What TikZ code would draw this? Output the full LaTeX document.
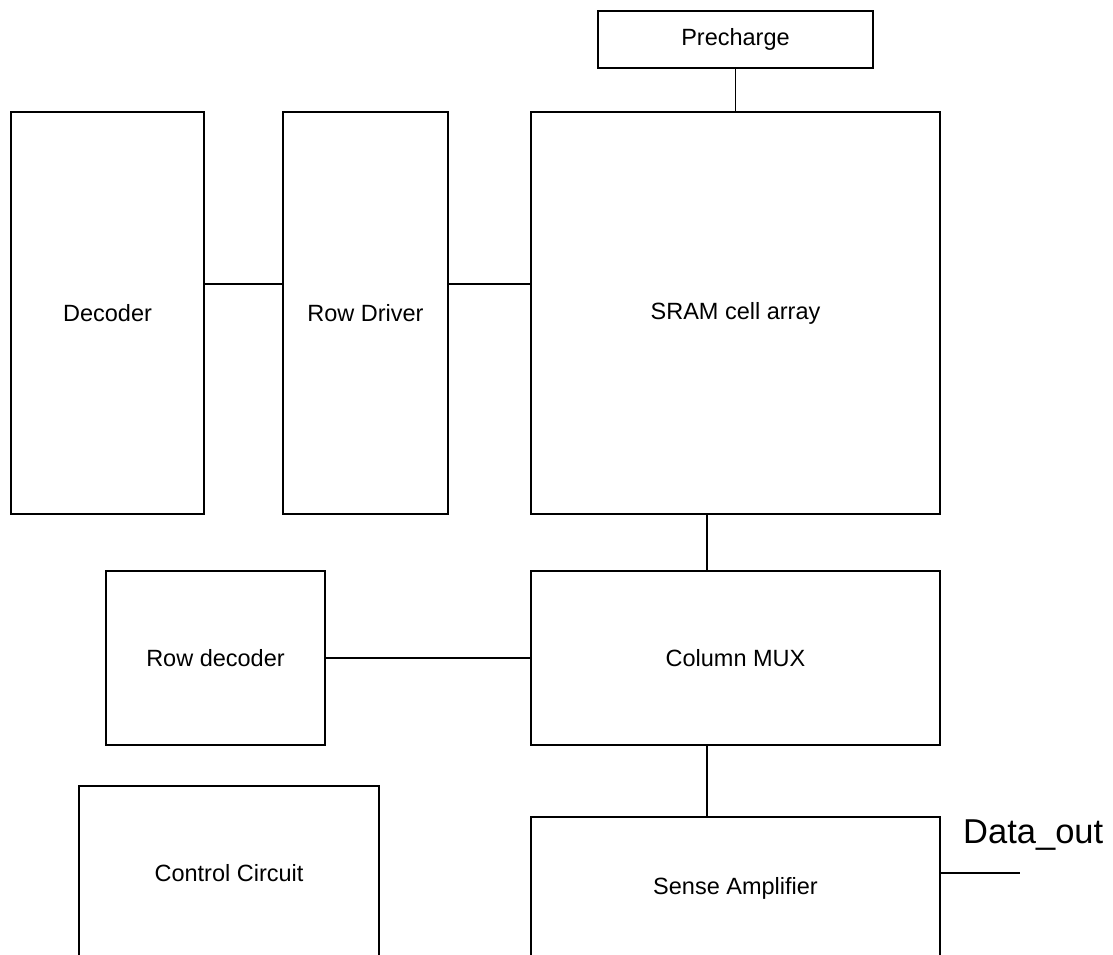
\documentclass[tikz,border=0pt]{standalone}
\usepackage{fontspec}
\setmainfont{Liberation Sans}
\usepackage{tikz}
\usetikzlibrary{positioning,calc}
\tikzset{
  blockbox/.style={draw=black, line width=1.4pt, inner sep=0pt, outer sep=0pt,
    align=center, font=\fontsize{23.5}{28}\selectfont},
  wire/.style={draw=black, line width=1.4pt},
}

\begin{document}
\begin{tikzpicture}
  \clip (0,0) rectangle (1113pt,-955pt);
  % top row
  \node[blockbox, minimum width=193pt, minimum height=402pt]
    (dec) at (107.5pt,-313pt) {Decoder};
  \node[blockbox, minimum width=165pt, minimum height=402pt, right=79pt of dec]
    (drv) {Row Driver};
  \node[blockbox, minimum width=409pt, minimum height=402pt, right=83pt of drv]
    (sram) {SRAM cell array};
  \node[blockbox, minimum width=275pt, minimum height=57pt, above=44pt of sram]
    (pre) {Precharge};
  % lower blocks
  \node[blockbox, minimum width=409pt, minimum height=174pt, below=57pt of sram]
    (mux) {Column MUX};
  \node[blockbox, minimum width=219pt, minimum height=174pt, left=206pt of mux]
    (rdec) {Row decoder};
  \node[blockbox, minimum width=409pt, minimum height=142pt, below=72pt of mux]
    (sense) {Sense Amplifier};
  \node[blockbox, minimum width=300pt, minimum height=174pt, below=41pt of rdec, xshift=13.5pt]
    (ctrl) {Control Circuit};
  % connections
  \draw[wire] ([yshift=29pt]dec.east) -- ([yshift=29pt]drv.west);
  \draw[wire] ([yshift=29pt]drv.east) -- ([yshift=29pt]sram.west);
  \draw[wire] (pre.south) -- (sram.north);
  \draw[wire] ([xshift=-28.5pt]sram.south) -- ([xshift=-28.5pt]mux.north);
  \draw[wire] (rdec.east) -- (mux.west);
  \draw[wire] ([xshift=-28.5pt]mux.south) -- ([xshift=-28.5pt]sense.north);
  \draw[wire] ([yshift=15pt]sense.east) -- ++(80pt,0) coordinate (dout);
  \node[anchor=base west, inner sep=0pt, font=\fontsize{34.5}{40}\selectfont]
    (doutlbl) at ([shift={(-57pt,30pt)}]dout) {Data\_out};
\end{tikzpicture}
\end{document}
